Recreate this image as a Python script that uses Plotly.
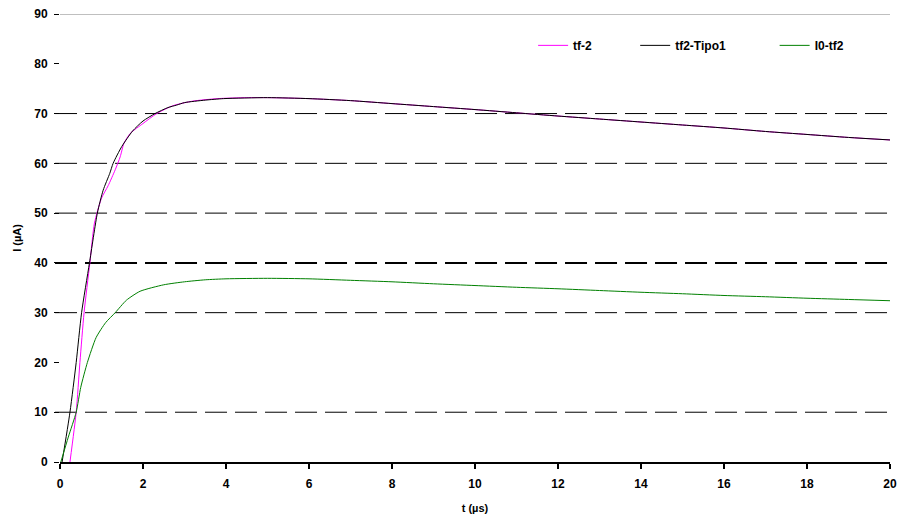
import plotly.graph_objects as go

# Time axis (µs) and current (µA) for each curve
t_tf2 = [0.24, 0.39, 0.48, 0.58, 0.72, 0.83, 1.0, 1.16, 1.33, 1.45, 1.54, 1.69, 2.0, 2.33,
         2.73, 3.2, 3.8, 4.5, 5.0, 6.0, 7.0, 8.0, 9.0, 10.0, 11.0, 12.0, 13.0, 14.0, 15.0,
         16.0, 17.0, 18.0, 19.0, 20.0]
i_tf2 = [0.0, 10.0, 20.0, 30.0, 40.0, 48.0, 53.0, 55.5, 58.7, 61.3, 64.0, 66.0, 68.0, 70.0,
         71.6, 72.5, 73.0, 73.2, 73.2, 73.0, 72.6, 72.0, 71.4, 70.8, 70.15, 69.5, 68.9, 68.3,
         67.7, 67.1, 66.4, 65.8, 65.2, 64.7]

t_tipo1 = [0.05, 0.24, 0.39, 0.52, 0.71, 0.9, 1.04, 1.2, 1.28, 1.49, 1.75, 2.0, 2.29, 2.6,
           2.81, 3.0, 3.5, 3.94, 5.0, 6.0, 7.0, 8.0, 9.0, 10.0, 11.0, 12.0, 13.0, 14.0, 15.0,
           16.0, 17.0, 18.0, 19.0, 20.0]
i_tipo1 = [0.0, 10.0, 20.0, 30.0, 40.0, 50.0, 54.6, 58.0, 60.0, 63.4, 66.5, 68.5, 70.0, 71.2,
           71.7, 72.2, 72.7, 73.0, 73.2, 73.0, 72.6, 72.0, 71.4, 70.8, 70.15, 69.5, 68.9, 68.3,
           67.7, 67.1, 66.4, 65.8, 65.2, 64.7]

t_i0 = [0.02, 0.2, 0.39, 0.5, 0.66, 0.87, 1.1, 1.33, 1.6, 1.93, 2.5, 3.0, 3.5, 4.0, 5.0,
        6.0, 7.0, 8.0, 9.0, 10.0, 11.0, 12.0, 13.0, 14.0, 15.0, 16.0, 17.0, 18.0, 19.0, 20.0]
i_i0 = [0.0, 5.0, 10.0, 15.0, 20.0, 25.0, 28.0, 30.0, 32.5, 34.3, 35.6, 36.2, 36.6, 36.8,
        36.9, 36.8, 36.5, 36.2, 35.8, 35.45, 35.1, 34.8, 34.45, 34.1, 33.8, 33.45, 33.2,
        32.9, 32.65, 32.4]

series_names = ["tf-2", "tf2-Tipo1", "I0-tf2"]
series_colors = ["#FF00FF", "#000000", "#008000"]

x_ticks = list(range(0, 21, 2))
y_ticks = list(range(0, 91, 10))
dashed_levels = [10, 30, 50, 60, 70]
bold_level = 40
top_level = 90

FONT = "Liberation Sans"

# one small legend box per series so each entry sits at its own spot
legend_ids = ["legend", "legend2", "legend3"]
legend_x = [0.570, 0.693, 0.861]

fig = go.Figure()
for name, color, xs, ys, lid in zip(series_names, series_colors,
                                    [t_tf2, t_tipo1, t_i0], [i_tf2, i_tipo1, i_i0],
                                    legend_ids):
    fig.add_trace(go.Scatter(x=xs, y=ys, name=name, mode="lines", legend=lid,
                             line=dict(color=color, width=1, shape="spline", smoothing=0.6)))

shapes = []
for lv in dashed_levels:
    shapes.append(dict(type="line", xref="paper", yref="y", x0=-0.006, x1=1, y0=lv, y1=lv,
                       line=dict(color="black", width=1, dash="22px,8px"), layer="below"))
shapes.append(dict(type="line", xref="paper", yref="y", x0=-0.006, x1=1, y0=bold_level,
                   y1=bold_level, line=dict(color="black", width=2, dash="22px,8px"),
                   layer="below"))
shapes.append(dict(type="line", xref="paper", yref="y", x0=0, x1=1, y0=top_level,
                   y1=top_level, line=dict(color="#808080", width=1), layer="below"))

legend_style = dict(orientation="h", y=0.93, xanchor="left", yanchor="middle",
                    bgcolor="rgba(0,0,0,0)",
                    font=dict(family=FONT, size=12, color="black", weight="bold"))

fig.update_layout(
    width=898, height=519,
    margin=dict(l=60, r=8, t=14, b=57),
    paper_bgcolor="white", plot_bgcolor="white",
    font=dict(family=FONT, size=12, color="black"),
    shapes=shapes,
    showlegend=True,
    **{lid: dict(x=lx, **legend_style) for lid, lx in zip(legend_ids, legend_x)},
)

fig.update_xaxes(
    range=[0, 20], tickvals=x_ticks, ticktext=[str(v) for v in x_ticks],
    showgrid=False, zeroline=False, showline=True, linecolor="black", linewidth=2,
    ticks="outside", ticklen=5, tickwidth=2, tickcolor="black", ticklabelstandoff=5,
    tickfont=dict(family=FONT, size=12, weight="bold"), automargin=False,
    title=dict(text="t (µs)", font=dict(family=FONT, size=11, weight="bold"), standoff=14),
)
fig.update_yaxes(
    range=[0, 90], tickvals=y_ticks, ticktext=[str(v) for v in y_ticks],
    showgrid=False, zeroline=False, showline=False,
    ticks="outside", ticklen=5, tickwidth=1, tickcolor="black", ticklabelstandoff=4,
    tickfont=dict(family=FONT, size=12, weight="bold"), automargin=False,
    title=dict(text="I (µA)", font=dict(family=FONT, size=11, weight="bold"), standoff=10),
)

fig.write_html("out.html")
